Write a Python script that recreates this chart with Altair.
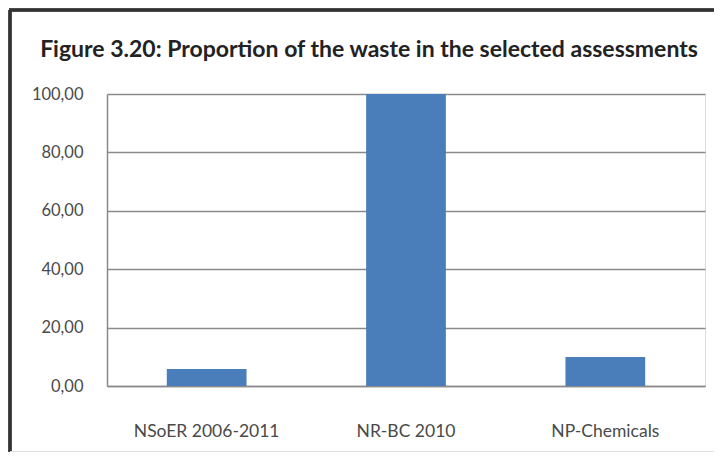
import altair as alt
import pandas as pd

categories = ["NSoER 2006-2011", "NR-BC 2010", "NP-Chemicals"]
values = [5.8, 100.0, 9.9]
y_ticks = [0, 20, 40, 60, 80, 100]
title_text = "Figure 3.20: Proportion of the waste in the selected assessments"

df = pd.DataFrame({"cat": categories, "val": values})

FONT = "Lato"

bars = alt.Chart(df).mark_bar(color="#4a7ebb").encode(
    x=alt.X("cat:N", sort=categories, title=None,
            scale=alt.Scale(paddingInner=0.6, paddingOuter=0.3),
            axis=alt.Axis(labelAngle=0, labelPadding=36, ticks=False,
                          domainColor="#8a8a8a", domainWidth=1.5,
                          labelFont=FONT, labelFontSize=17.5, labelColor="#4a4a4a")),
    y=alt.Y("val:Q", title=None,
            scale=alt.Scale(domain=[0, 100], nice=False),
            axis=alt.Axis(values=y_ticks, ticks=False, grid=True,
                          gridColor="#8a8a8a", gridWidth=1.5,
                          domainColor="#8a8a8a", domainWidth=1.5,
                          labelPadding=24, labelFont=FONT, labelFontSize=16.5,
                          labelColor="#4a4a4a",
                          labelExpr="replace(format(datum.value, '.2f'), '.', ',')")),
)

title_mark = alt.Chart(pd.DataFrame({"t": [title_text]})).mark_text(
    font=FONT, fontSize=23, fontWeight="bold", color="#222222",
    align="center", baseline="middle"
).encode(x=alt.value(262), y=alt.value(-44), text="t:N")

frame_left = alt.Chart(df).mark_rule(color="#333333", strokeWidth=3).encode(
    x=alt.value(-97), y=alt.value(-84), y2=alt.value(358)
)
frame_top = alt.Chart(df).mark_rule(color="#333333", strokeWidth=3).encode(
    x=alt.value(-98), x2=alt.value(615), y=alt.value(-84)
)
frame_bottom = alt.Chart(df).mark_rule(color="#dddddd", strokeWidth=1.5).encode(
    x=alt.value(-97), x2=alt.value(615), y=alt.value(358)
)

chart = alt.layer(bars, title_mark, frame_left, frame_top, frame_bottom).properties(
    width=598,
    height=292,
    autosize=alt.AutoSizeParams(type="none"),
    padding={"left": 99, "top": 86, "right": 9, "bottom": 66},
).configure_view(stroke=None).configure(background="white")

chart.save("out.html", embed_options={"renderer": "svg", "actions": False})
